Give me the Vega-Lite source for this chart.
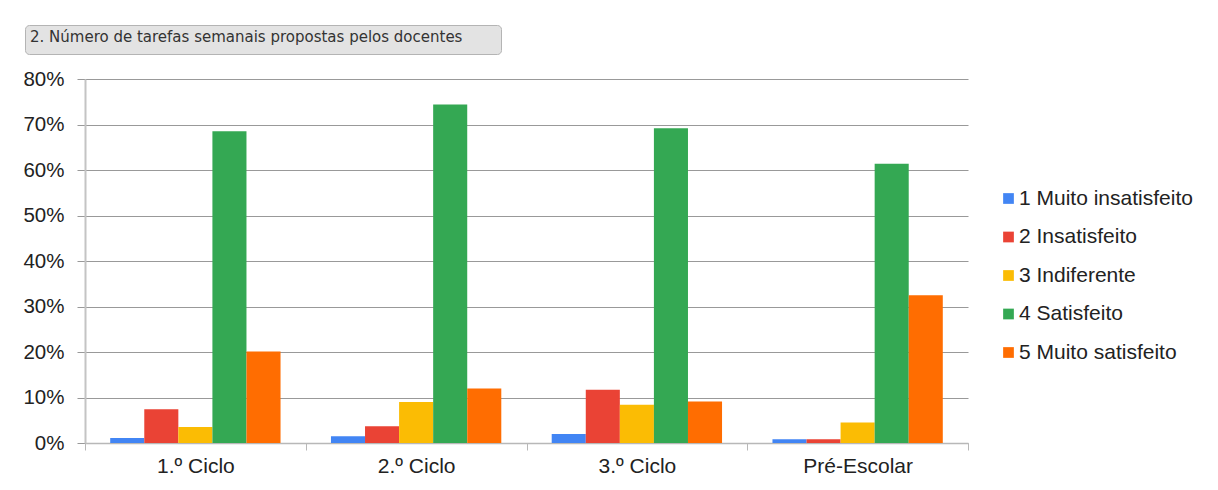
{
  "$schema": "https://vega.github.io/schema/vega-lite/v6.json",
  "background": "white",
  "autosize": "none",
  "padding": {"left": 85, "top": 79, "right": 250, "bottom": 47},
  "width": 883,
  "height": 364,
  "config": {
    "font": "Liberation Sans",
    "view": {"stroke": null}
  },
  "data": {
    "values": [
      {"nivel": "1.º Ciclo", "resposta": "1 Muito insatisfeito", "valor": 0.011},
      {"nivel": "1.º Ciclo", "resposta": "2 Insatisfeito", "valor": 0.074},
      {"nivel": "1.º Ciclo", "resposta": "3 Indiferente", "valor": 0.035},
      {"nivel": "1.º Ciclo", "resposta": "4 Satisfeito", "valor": 0.685},
      {"nivel": "1.º Ciclo", "resposta": "5 Muito satisfeito", "valor": 0.201},
      {"nivel": "2.º Ciclo", "resposta": "1 Muito insatisfeito", "valor": 0.015},
      {"nivel": "2.º Ciclo", "resposta": "2 Insatisfeito", "valor": 0.037},
      {"nivel": "2.º Ciclo", "resposta": "3 Indiferente", "valor": 0.09},
      {"nivel": "2.º Ciclo", "resposta": "4 Satisfeito", "valor": 0.744},
      {"nivel": "2.º Ciclo", "resposta": "5 Muito satisfeito", "valor": 0.12},
      {"nivel": "3.º Ciclo", "resposta": "1 Muito insatisfeito", "valor": 0.02},
      {"nivel": "3.º Ciclo", "resposta": "2 Insatisfeito", "valor": 0.117},
      {"nivel": "3.º Ciclo", "resposta": "3 Indiferente", "valor": 0.084},
      {"nivel": "3.º Ciclo", "resposta": "4 Satisfeito", "valor": 0.692},
      {"nivel": "3.º Ciclo", "resposta": "5 Muito satisfeito", "valor": 0.091},
      {"nivel": "Pré-Escolar", "resposta": "1 Muito insatisfeito", "valor": 0.008},
      {"nivel": "Pré-Escolar", "resposta": "2 Insatisfeito", "valor": 0.008},
      {"nivel": "Pré-Escolar", "resposta": "3 Indiferente", "valor": 0.045},
      {"nivel": "Pré-Escolar", "resposta": "4 Satisfeito", "valor": 0.614},
      {"nivel": "Pré-Escolar", "resposta": "5 Muito satisfeito", "valor": 0.325}
    ]
  },
  "mark": {"type": "bar"},
  "encoding": {
    "x": {
      "field": "nivel", "type": "nominal",
      "sort": ["1.º Ciclo", "2.º Ciclo", "3.º Ciclo", "Pré-Escolar"],
      "scale": {"paddingInner": 0, "paddingOuter": 0},
      "axis": {
        "title": null, "labelAngle": 0, "labelFontSize": 21, "labelColor": "#222222",
        "tickBand": "extent", "tickSize": 7, "tickColor": "#b8b8b8",
        "domainColor": "#b8b8b8", "domainWidth": 1.5, "labelPadding": 5
      }
    },
    "xOffset": {
      "field": "resposta", "type": "nominal",
      "sort": ["1 Muito insatisfeito", "2 Insatisfeito", "3 Indiferente", "4 Satisfeito", "5 Muito satisfeito"],
      "scale": {"paddingInner": 0, "paddingOuter": 0.74}
    },
    "y": {
      "field": "valor", "type": "quantitative",
      "scale": {"domain": [0, 0.8], "nice": false},
      "axis": {
        "title": null, "format": ".0%",
        "values": [0, 0.1, 0.2, 0.3, 0.4, 0.5, 0.6, 0.7, 0.8],
        "labelFontSize": 20.5, "labelColor": "#222222",
        "grid": true, "gridColor": "#999999", "gridWidth": 1,
        "tickColor": "#999999", "tickSize": 8, "labelPadding": 13,
        "domainColor": "#c4c4c4", "domainWidth": 2
      }
    },
    "color": {
      "field": "resposta", "type": "nominal",
      "scale": {
        "domain": ["1 Muito insatisfeito", "2 Insatisfeito", "3 Indiferente", "4 Satisfeito", "5 Muito satisfeito"],
        "range": ["#4285F4", "#EA4335", "#FBBC04", "#34A853", "#FF6D01"]
      },
      "legend": {
        "title": null, "orient": "none", "legendX": 913, "legendY": 109,
        "labelFontSize": 21, "labelColor": "#222222", "symbolType": "square", "labelLimit": 300,
        "symbolSize": 115, "symbolStrokeWidth": 0, "rowPadding": 16.5, "labelOffset": 0
      }
    },
    "opacity": {
      "datum": "titulo", "type": "nominal",
      "scale": {"range": [1, 1]},
      "legend": {
        "title": "2. Número de tarefas semanais propostas pelos docentes",
        "orient": "none", "legendX": -60, "legendY": -54,
        "titleFont": "DejaVu Sans", "titleFontSize": 15, "titleFontWeight": "normal",
        "titleColor": "#333333", "titleLimit": 800, "titlePadding": 2,
        "padding": 5, "cornerRadius": 4, "strokeColor": "#b4b4b4",
        "fillColor": "#e3e3e3",
        "symbolSize": 0, "symbolOpacity": 0, "symbolStrokeWidth": 0,
        "labelExpr": "' '", "labelFontSize": 2, "labelOffset": 464
      }
    }
  }
}
